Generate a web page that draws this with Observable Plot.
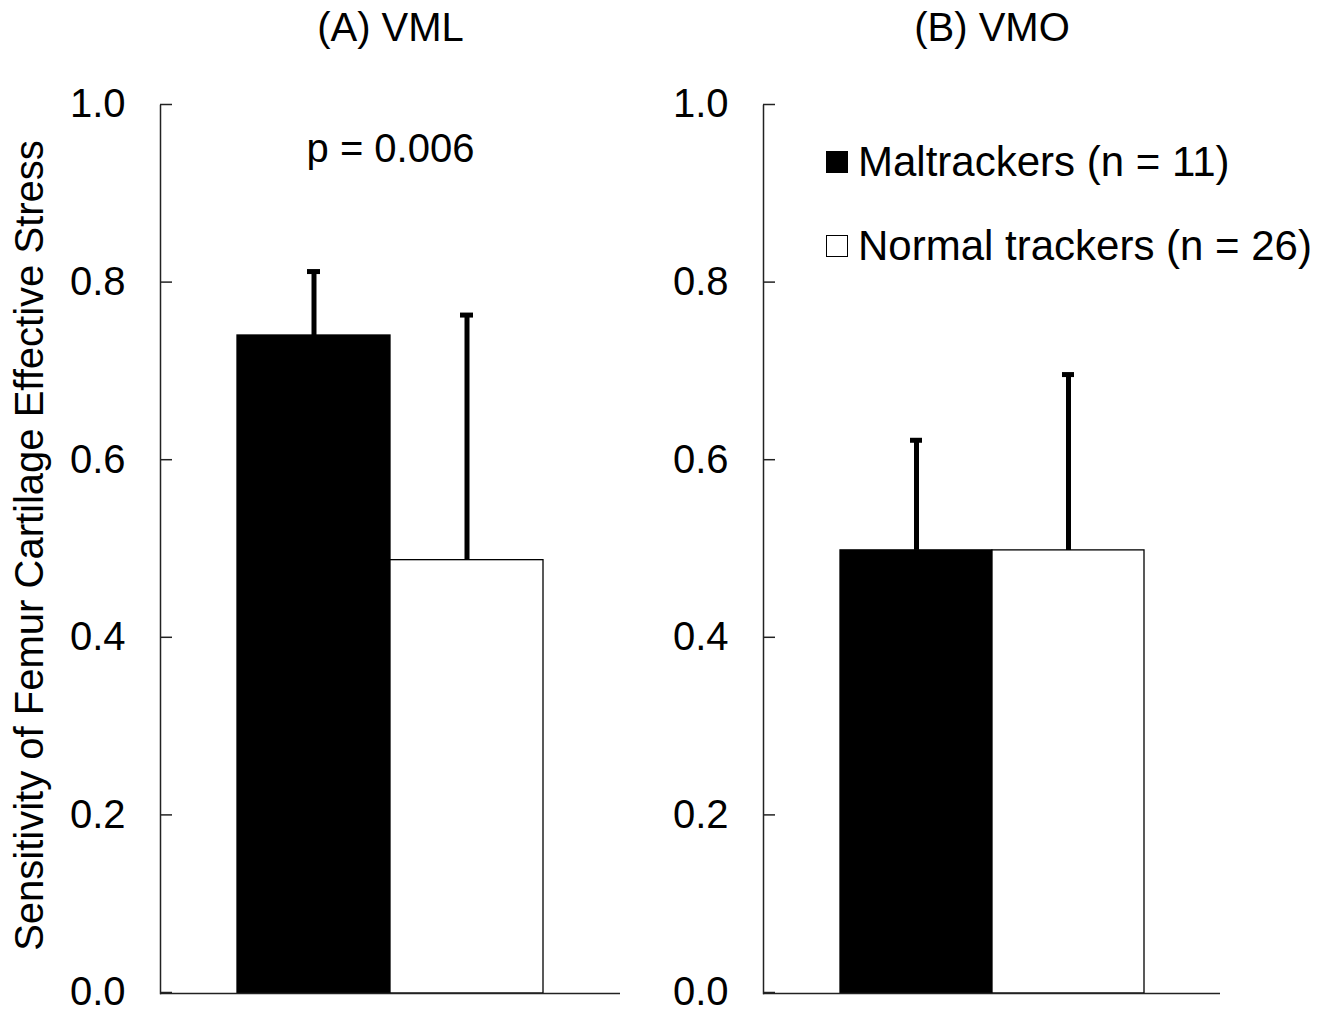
<!DOCTYPE html>
<html>
<head>
<meta charset="utf-8">
<script src="https://cdn.jsdelivr.net/npm/d3@7"></script>
<script src="https://cdn.jsdelivr.net/npm/@observablehq/plot@0.6"></script>
<style>
  html, body { margin: 0; padding: 0; background: #fff; }
  #wrap { position: relative; width: 1333px; height: 1012px; display: flex; }
  #wrap svg { display: block; }
  .legend { position: absolute; left: 826px; font-family: "Liberation Sans", Arial, sans-serif; font-size: 42px; color: #000; }
  .row { position: absolute; left: 0; height: 50px; display: flex; align-items: center; white-space: nowrap; }
  .sw { width: 20px; height: 20px; border: 1px solid #000; margin-right: 10px; box-sizing: content-box; }
</style>
</head>
<body>
<div id="wrap"></div>
<script>
const panels = ["(A) VML", "(B) VMO"];
const groups = ["Maltrackers (n = 11)", "Normal trackers (n = 26)"];
const groupColors = ["black", "white"];
const meansVML = [0.741, 0.488];
const errorsVML = [0.072, 0.276];
const meansVMO = [0.499, 0.499];
const errorsVMO = [0.124, 0.198];
const yTicks = [0, 0.2, 0.4, 0.6, 0.8, 1.0];
const yLabel = "Sensitivity of Femur Cartilage Effective Stress";
const pValueText = "p = 0.006";

const font = "'Liberation Sans', Arial, sans-serif";

function rows(means, errs) {
  return groups.map((g, i) => ({group: g, value: means[i], upper: means[i] + errs[i]}));
}

function panel({title, data, width, marginLeft, marginRight, extra = []}) {
  return Plot.plot({
    width,
    height: 1012,
    marginTop: 105,
    marginBottom: 19,
    marginLeft,
    marginRight,
    style: {fontFamily: font, fontSize: "40px", color: "black", background: "white"},
    x: {domain: groups, paddingInner: 0, paddingOuter: 0.5, axis: null},
    y: {domain: [0, 1], label: null},
    color: {domain: groups, range: groupColors},
    marks: [
      Plot.barY(data, {x: "group", y: "value", fill: "group", stroke: "black", strokeWidth: 1.3}),
      Plot.ruleX(data, {x: "group", y1: "value", y2: "upper", stroke: "black", strokeWidth: 5}),
      Plot.tickY(data, {x: "group", y: "upper", stroke: "black", strokeWidth: 5, inset: 70}),
      Plot.ruleY([0], {stroke: "#222", strokeWidth: 1.5}),
      Plot.frame({anchor: "left", stroke: "#222", strokeWidth: 1.5}),
      Plot.axisY(yTicks, {tickSize: -12, tickPadding: 47, tickFormat: d3.format(".1f"), stroke: "#222", strokeWidth: 1.5, fill: "black", dy: -1}),
      Plot.text([title], {text: d => d, frameAnchor: "top", lineAnchor: "middle", dy: -77, fill: "black", fontSize: 40}),
      ...extra
    ]
  });
}

const left = panel({
  title: panels[0],
  data: rows(meansVML, errorsVML),
  width: 667, marginLeft: 160, marginRight: 47,
  extra: [
    Plot.text([yLabel], {text: d => d, frameAnchor: "left", textAnchor: "middle", lineAnchor: "middle", rotate: -90, dx: -130, dy: -4, fill: "black", fontSize: 40}),
    Plot.text([pValueText], {text: d => d, frameAnchor: "top", lineAnchor: "middle", dy: 44, fill: "black", fontSize: 40})
  ]
});

const right = panel({
  title: panels[1],
  data: rows(meansVMO, errorsVMO),
  width: 666, marginLeft: 96, marginRight: 113
});

const wrap = document.getElementById("wrap");
wrap.appendChild(left);
wrap.appendChild(right);

const legend = document.createElement("div");
legend.className = "legend";
legend.style.top = "0px";
groups.forEach((g, i) => {
  const row = document.createElement("div");
  row.className = "row";
  row.style.top = (137 + i * 84) + "px";
  const sw = document.createElement("div");
  sw.className = "sw";
  sw.style.background = groupColors[i];
  const label = document.createElement("span");
  label.textContent = g;
  row.appendChild(sw);
  row.appendChild(label);
  legend.appendChild(row);
});
wrap.appendChild(legend);
</script>
</body>
</html>
